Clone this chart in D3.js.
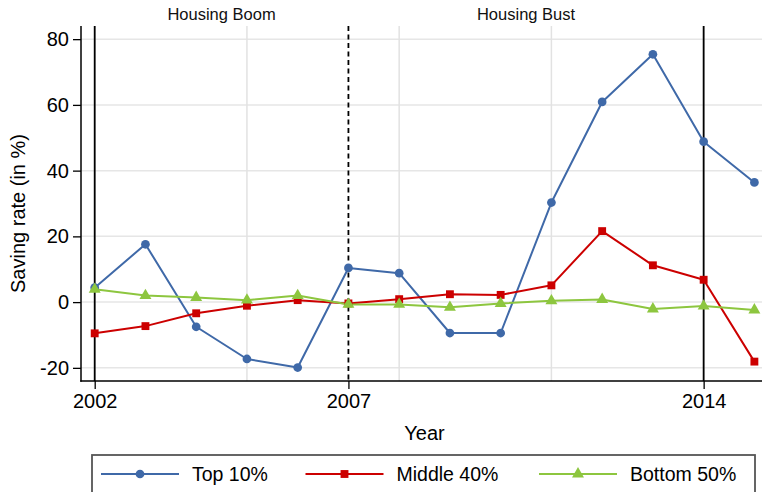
<!DOCTYPE html>
<html>
<head>
<meta charset="utf-8">
<script src="https://cdn.jsdelivr.net/npm/d3@7"></script>
<style>
  html, body { margin: 0; padding: 0; background: #fff; }
  svg { display: block; font-family: "Liberation Sans", Arial, Helvetica, sans-serif; }
</style>
</head>
<body>
<svg id="chart" width="764" height="492"></svg>
<script>
const years = [2002, 2003, 2004, 2005, 2006, 2007, 2008, 2009, 2010, 2011, 2012, 2013, 2014, 2015];
const top10 = [4.4, 17.6, -7.5, -17.3, -19.9, 10.4, 8.8, -9.4, -9.4, 30.3, 60.9, 75.4, 48.8, 36.4];
const middle40 = [-9.5, -7.3, -3.4, -1.1, 0.6, -0.4, 0.9, 2.4, 2.2, 5.1, 21.6, 11.2, 6.8, -18.1];
const bottom50 = [3.9, 2.0, 1.4, 0.6, 2.0, -0.7, -0.7, -1.6, -0.4, 0.4, 0.8, -2.1, -1.2, -2.4];
const seriesNames = ["Top 10%", "Middle 40%", "Bottom 50%"];
const yTicks = [-20, 0, 20, 40, 60, 80];
const xTicks = [2002, 2007, 2014];
const xGrid = [2002, 2005, 2008, 2011, 2014];
const phaseLabels = ["Housing Boom", "Housing Bust"];
const phaseBounds = [2002, 2007, 2014];

const svg = d3.select("#chart");
const plot = { left: 81, right: 762, top: 26, bottom: 381 };

const x = d3.scaleLinear().domain([2001.73, 2015.15]).range([plot.left, plot.right]);
const y = d3.scaleLinear().domain([-24, 84]).range([plot.bottom, plot.top]);

const colors = ["#3f69a8", "#cc0000", "#8dc63f"];
const symbols = [d3.symbolCircle, d3.symbolSquare, d3.symbolTriangle];
const symSizes = [60, 62, 62];
const series = [top10, middle40, bottom50];
const fmt = d => String(d);

// gridlines
svg.append("g").selectAll("line").data(yTicks).join("line")
  .attr("x1", plot.left).attr("x2", plot.right)
  .attr("y1", d => y(d)).attr("y2", d => y(d))
  .attr("stroke", "#e6e6e6").attr("stroke-width", 1.5);
svg.append("g").selectAll("line").data(xGrid).join("line")
  .attr("x1", d => x(d)).attr("x2", d => x(d))
  .attr("y1", plot.top).attr("y2", plot.bottom)
  .attr("stroke", "#e2e2e2").attr("stroke-width", 1.5);

// reference lines
svg.append("g").selectAll("line").data(phaseBounds).join("line")
  .attr("x1", d => x(d)).attr("x2", d => x(d))
  .attr("y1", plot.top).attr("y2", plot.bottom)
  .attr("stroke", "#000").attr("stroke-width", 1.8)
  .attr("stroke-dasharray", (d, i) => i === 1 ? "5,3.5" : null);

// phase labels
svg.append("g").selectAll("text").data(phaseLabels).join("text")
  .attr("x", (d, i) => (x(phaseBounds[i]) + x(phaseBounds[i + 1])) / 2)
  .attr("y", 20)
  .attr("text-anchor", "middle")
  .attr("font-size", 16.5)
  .attr("fill", "#111")
  .text(d => d);

// lines and markers
const line = d3.line().x((d, i) => x(years[i])).y(d => y(d));
series.forEach((s, k) => {
  svg.append("path").datum(s)
    .attr("d", line)
    .attr("fill", "none")
    .attr("stroke", colors[k])
    .attr("stroke-width", 2)
    .attr("stroke-linejoin", "round");
});
series.forEach((s, k) => {
  svg.append("g").selectAll("path").data(s).join("path")
    .attr("transform", (d, i) => `translate(${x(years[i])},${y(d)})`)
    .attr("d", d3.symbol().type(symbols[k]).size(symSizes[k]))
    .attr("fill", colors[k]);
});

// axes
const yAxis = svg.append("g").attr("transform", `translate(${plot.left},0)`)
  .call(d3.axisLeft(y).tickValues(yTicks).tickSize(8).tickPadding(4).tickFormat(fmt));
yAxis.select(".domain").remove();
yAxis.selectAll(".tick line").attr("stroke", "#000").attr("stroke-width", 1.3);
yAxis.selectAll("text").attr("font-size", 20).attr("fill", "#000").attr("font-family", "Liberation Sans, Arial, sans-serif");

const xAxis = svg.append("g").attr("transform", `translate(0,${plot.bottom})`)
  .call(d3.axisBottom(x).tickValues(xTicks).tickSize(8).tickPadding(5).tickFormat(fmt));
xAxis.select(".domain").remove();
xAxis.selectAll(".tick line").attr("stroke", "#000").attr("stroke-width", 1.3);
xAxis.selectAll("text").attr("font-size", 20).attr("fill", "#000").attr("font-family", "Liberation Sans, Arial, sans-serif");

svg.append("line").attr("x1", plot.left).attr("x2", plot.left)
  .attr("y1", plot.top).attr("y2", plot.bottom + 0.75)
  .attr("stroke", "#000").attr("stroke-width", 1.5);
svg.append("line").attr("x1", plot.left - 0.75).attr("x2", plot.right)
  .attr("y1", plot.bottom).attr("y2", plot.bottom)
  .attr("stroke", "#000").attr("stroke-width", 1.5);

// axis titles
svg.append("text").attr("x", (plot.left + plot.right) / 2 + 3).attr("y", 440)
  .attr("text-anchor", "middle").attr("font-size", 20).attr("fill", "#000").text("Year");
svg.append("text").attr("transform", `translate(25,${(plot.top + plot.bottom) / 2 + 10}) rotate(-90)`)
  .attr("text-anchor", "middle").attr("font-size", 20).attr("fill", "#000").text("Saving rate (in %)");

// legend
const legend = svg.append("g");
legend.append("rect").attr("x", 92).attr("y", 455).attr("width", 663).attr("height", 50)
  .attr("fill", "#fff").attr("stroke", "#555").attr("stroke-width", 1.8);
const legX = [101, 305.5, 539];
seriesNames.forEach((name, k) => {
  const g = legend.append("g").attr("transform", `translate(${legX[k]},474)`);
  g.append("line").attr("x1", 0).attr("x2", 78).attr("y1", 0).attr("y2", 0)
    .attr("stroke", colors[k]).attr("stroke-width", 1.8);
  g.append("path").attr("transform", "translate(39,0)")
    .attr("d", d3.symbol().type(symbols[k]).size(symSizes[k]))
    .attr("fill", colors[k]);
  g.append("text").attr("x", 91).attr("y", 7).attr("font-size", 19.5).attr("fill", "#000").text(name);
});
</script>
</body>
</html>
